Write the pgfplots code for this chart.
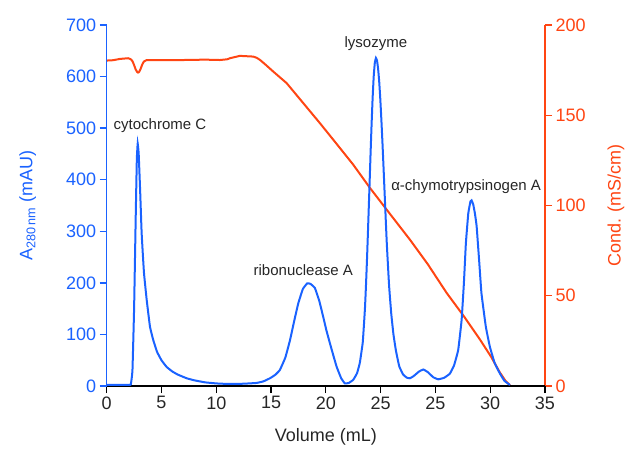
\documentclass[border=0pt]{standalone}
\usepackage{fontspec}
\setmainfont{Liberation Sans}
\usepackage{pgfplots}
\pgfplotsset{compat=1.18}
\definecolor{cblue}{HTML}{1A62FF}
\definecolor{corange}{HTML}{FF4513}
\definecolor{cgray}{HTML}{262626}
\begin{document}
\begin{tikzpicture}
\pgfplotsset{every axis/.append style={scale only axis, width=438.3pt, height=361pt,
  xmin=0, xmax=40, clip=false, tick align=outside, major tick length=7pt,
  /pgf/number format/assume math mode=true,
  tick label style={font=\fontsize{18}{18}\selectfont}}}
\begin{axis}[axis y line*=right, axis x line=none, ymin=0, ymax=200, ytick={0,50,...,200},
  y axis line style={corange, line width=1.3pt}, ytick style={corange, line width=1.3pt},
  yticklabel style={corange}, ylabel={Cond. (mS/cm)},
  every axis y label/.style={at={(axis description cs:1.162,0.5)}, rotate=90, anchor=center, corange, font=\fontsize{18}{18}\selectfont}]
\addplot[corange, line width=2pt, line join=round] coordinates {
(0,180.3) (0.6,180.5) (1.2,181.2) (1.97,181.6) (2.2,181) (2.35,180) (2.5,177.8) (2.65,175.3) (2.8,173.8) (2.88,173.6) (2.96,174) (3.1,175.8) (3.25,178.2) (3.4,179.8) (3.65,180.6) (5,180.6) (7,180.6) (9,180.8) (10.34,180.6) (11.0,181) (11.25,181.6) (12.16,182.9) (13.38,182.5) (13.7,181.8) (14.0,180.6) (14.5,178) (15.2,174.2) (16.42,167.8) (17.9,157) (19.46,145.6) (21.0,134) (22.5,122.6) (24.03,109.7) (25.55,97.7) (27.67,81.1) (29.3,67.5) (31.02,51.6) (32.6,38.6) (34.06,25.8) (35.1,16) (35.89,7.4) (36.4,2.8) (36.8,0.5)};
\end{axis}
\begin{axis}[axis y line*=left, axis x line*=bottom, ymin=0, ymax=700, ytick={0,100,...,700},
  xtick={0,5,...,40}, xticklabels={0,5,10,15,20,25,25,30,35},
  y axis line style={cblue, line width=1.3pt}, ytick style={cblue, line width=1.3pt},
  x axis line style={black, line width=1.3pt}, xtick style={black, line width=1.3pt},
  yticklabel style={cblue}, xticklabel style={cgray},
  ylabel={A\textsubscript{280\,nm} (mAU)},
  xlabel={Volume (mL)},
  every axis y label/.style={at={(axis description cs:-0.18,0.5)}, rotate=90, anchor=center, cblue, font=\fontsize{18}{18}\selectfont},
  every axis x label/.style={at={(axis description cs:0.5,-0.141)}, anchor=center, cgray, font=\fontsize{18}{18}\selectfont}]
\addplot[cblue, line width=2pt, smooth, tension=0.2] coordinates {
(0,2) (1,2) (2,2) (2.2,3) (2.35,30) (2.5,150) (2.65,330) (2.75,440) (2.83,470) (2.92,450) (3.05,380) (3.19,296) (3.4,220) (3.65,167) (3.95,115) (4.25,89) (4.6,66) (5.0,50) (5.47,37) (6.0,28) (6.5,22) (7.3,15) (8.0,11) (9.0,7) (10.0,5) (11,4) (12,4) (13,5) (13.7,6) (14.3,9) (14.9,15) (15.4,22) (15.8,31) (16.3,55) (16.73,89) (17.1,125) (17.48,160) (17.9,188) (18.3,199) (18.6,198) (19.0,190) (19.4,165) (19.76,134) (20.05,108) (20.37,83) (20.7,58) (20.99,37) (21.4,15) (21.74,5) (22.1,6) (22.5,12) (22.85,25) (23.1,45) (23.37,85) (23.57,151) (23.67,199) (23.77,254) (23.87,316) (23.97,379) (24.07,444) (24.17,505) (24.27,559) (24.37,601) (24.47,627) (24.57,636) (24.67,631) (24.77,615) (24.87,590) (24.97,556) (25.07,515) (25.17,470) (25.27,421) (25.37,371) (25.47,321) (25.57,273) (25.77,195) (25.97,140) (26.17,100) (26.4,68) (26.7,38) (27.06,22) (27.4,16) (27.67,15) (28.0,19) (28.5,28) (28.89,32) (29.3,27) (29.8,17) (30.26,13) (30.8,16) (31.32,24) (31.7,40) (32.08,70) (32.39,128) (32.6,200) (32.78,277) (33.0,335) (33.2,358) (33.3,360) (33.45,352) (33.6,335) (33.76,310) (34.0,240) (34.2,180) (34.6,115) (34.97,76) (35.4,45) (35.89,24) (36.3,10) (36.8,2)};
\node[cgray, font=\fontsize{15}{15}\selectfont] at (axis cs:4.86,504) {cytochrome C};
\node[cgray, font=\fontsize{15}{15}\selectfont] at (axis cs:24.57,663) {lysozyme};
\node[cgray, font=\fontsize{15}{15}\selectfont] at (axis cs:17.94,225) {ribonuclease A};
\node[cgray, font=\fontsize{15}{15}\selectfont] at (axis cs:32.8,386) {α-chymotrypsinogen A};
\end{axis}
\pgfresetboundingbox
\path[use as bounding box] (-106.7pt,-64pt) rectangle (520.3pt,386pt);
\end{tikzpicture}
\end{document}
